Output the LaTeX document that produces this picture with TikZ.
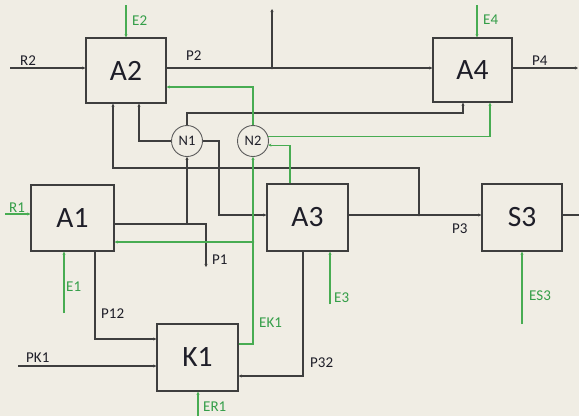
\documentclass[tikz,border=0pt]{standalone}
\usepackage{fontspec}
\setmainfont{Carlito}
\usetikzlibrary{arrows.meta}
\definecolor{bg}{RGB}{240,237,228}
\definecolor{lnc}{RGB}{62,62,62}
\definecolor{gr}{RGB}{72,172,82}
\definecolor{grt}{RGB}{52,158,72}
\definecolor{txt}{RGB}{30,30,40}
\tikzset{
  blk/.style={draw=lnc, line width=1.4pt, fill=bg, minimum width=80pt, minimum height=66pt, inner sep=0pt, font=\fontsize{29.5}{30}\selectfont, text=txt},
  nd/.style={circle, draw=lnc!85, line width=0.9pt, fill=bg, minimum size=31pt, inner sep=0pt, font=\fontsize{14.5}{15}\selectfont, text=txt},
  wire/.style={draw=lnc, line width=1.2pt},
  arw/.style={wire, -{Stealth[length=3pt,width=3pt]}},
  gwire/.style={draw=gr, line width=1.2pt},
  garw/.style={gwire, -{Stealth[length=3pt,width=3pt]}},
  lbl/.style={anchor=base west, inner sep=0pt, font=\fontsize{15}{16}\selectfont, text=txt},
  glbl/.style={lbl, text=grt},
  jdot/.style={circle, fill=lnc, inner sep=0pt, minimum size=2.6pt},
  gjdot/.style={circle, fill=gr, inner sep=0pt, minimum size=2.6pt}
}
\begin{document}
\begin{tikzpicture}[x=1pt,y=-1pt]
\path[use as bounding box, fill=bg] (0,0) rectangle (579,416);

% blocks
\node[blk, minimum width=80pt, minimum height=65pt] (A2) at (126,70.5) {A2};
\node[blk, minimum width=79pt, minimum height=64pt] (A4) at (472.5,70) {A4};
\node[blk, minimum width=83pt, minimum height=66pt] (A1) at (72.5,218) {A1};
\node[blk, minimum width=81pt, minimum height=67pt] (A3) at (307.5,217.5) {A3};
\node[blk, minimum width=80pt, minimum height=67pt] (S3) at (522,217.5) {S3};
\node[blk, minimum width=81pt, minimum height=67pt] (K1) at (197.5,357.5) {K1};
\node[nd] (N1) at (187,141) {N1};
\node[nd] (N2) at (253,141) {N2};

% coordinates
\coordinate (r2) at (10,68);
\coordinate (e2) at (126,5);
\coordinate (b2) at (272,68);
\coordinate (b2t) at (272,9);
\coordinate (e4) at (477,5);
\coordinate (p4) at (578,68);
\coordinate (g1) at (253,87);
\coordinate (x139) at (139,0);
\coordinate (j3) at (419,215);
\coordinate (x113) at (113,168);
\coordinate (n1a) at (463,113);
\coordinate (x490) at (490,0);
\coordinate (x290) at (290,0);
\coordinate (c219) at (219,215);
\coordinate (p1c) at (206,224);
\coordinate (p1e) at (206,267);
\coordinate (ek) at (253,344);
\coordinate (jek) at (253,242);
\coordinate (p12) at (95,339);
\coordinate (pk) at (18,366);
\coordinate (er) at (198,416);
\coordinate (p32) at (303,376);
\coordinate (e1) at (64,313);
\coordinate (r1) at (5,214);
\coordinate (e3) at (330,304);
\coordinate (es3) at (522,324);
\coordinate (s3o) at (579,215);

% black connectors
\draw[arw] (r2) -- (r2 -| A2.west);
\draw[arw] (A2.east |- r2) -- (A4.west |- r2);
\draw[arw] (b2) -- (b2t);
\draw[arw] (A4.east |- p4) -- (p4);
\draw[arw] (N1.west) -| (x139 |- A2.south);
\draw[arw] (j3) |- (x113) -- (x113 |- A2.south);
\draw[arw] (N1.north) |- (n1a) -- (n1a |- A4.south);
\draw[arw] (N1.east) -| (c219) -- (A3.west |- c219);
\draw[arw] (A1.east |- p1c) -- (p1c) -- (p1e);
\draw[arw] (N1.south |- p1c) -- (N1.south);
\draw[arw] (A1.south -| p12) -- (p12) -- (K1.west |- p12);
\draw[arw] (pk) -- (K1.west |- pk);
\draw[arw] (A3.south -| p32) -- (p32) -- (K1.east |- p32);
\draw[arw] (A3.east |- j3) -- (S3.west |- j3);
\draw[wire] (S3.east |- s3o) -- (s3o);

% green connectors
\draw[garw] (e2) -- (e2 |- A2.north);
\draw[garw] (e4) -- (e4 |- A4.north);
\draw[garw] (N2.north) |- (A2.east |- g1);
\draw[garw] (N2.15) -| (x490 |- A4.south);
\draw[garw] (x290 |- A3.north) |- (N2.-15);
\draw[garw] (K1.east |- ek) -| (N2.south);
\draw[garw] (jek) -- (A1.east |- jek);
\draw[garw] (er) -- (er |- K1.south);
\draw[garw] (e1) -- (e1 |- A1.south);
\draw[garw] (r1) -- (r1 -| A1.west);
\draw[garw] (e3) -- (e3 |- A3.south);
\draw[garw] (es3) -- (es3 |- S3.south);

% junction dots
\node[jdot] at (b2) {};
\node[jdot] at (j3) {};
\node[gjdot] at (jek) {};

% labels
\node[lbl] (lR2) at (20,65) {R2};
\node[lbl] (lP2) at (186,60) {P2};
\node[glbl] (lE2) at (132,25) {E2};
\node[glbl] (lE4) at (483,24) {E4};
\node[lbl] (lP4) at (532,65) {P4};
\node[glbl] (lR1) at (9,212) {R1};
\node[glbl] (lE1) at (66,291) {E1};
\node[lbl] (lP12) at (101,318) {P12};
\node[lbl] (lPK1) at (26,362) {PK1};
\node[glbl] (lER1) at (203,411) {ER1};
\node[lbl] (lP1) at (212,264) {P1};
\node[glbl] (lEK1) at (259,327) {EK1};
\node[glbl] (lE3) at (334,302) {E3};
\node[lbl] (lP32) at (310,367) {P32};
\node[lbl] (lP3) at (452,233) {P3};
\node[glbl] (lES3) at (529,300) {ES3};
\end{tikzpicture}
\end{document}
